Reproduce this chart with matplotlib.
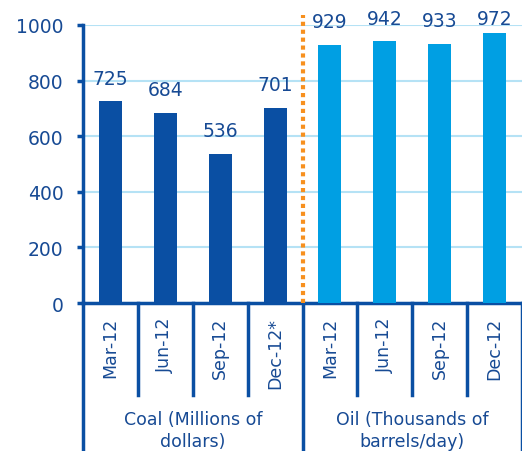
import matplotlib
matplotlib.use('Agg')

import numpy as np
import matplotlib.pyplot as plt
import matplotlib.transforms as mtransforms

coal_labels = ["Mar-12", "Jun-12", "Sep-12", "Dec-12*"]
coal_values = [725, 684, 536, 701]
oil_labels = ["Mar-12", "Jun-12", "Sep-12", "Dec-12"]
oil_values = [929, 942, 933, 972]
group_names = ["Coal (Millions of\ndollars)", "Oil (Thousands of\nbarrels/day)"]
yticks = [0, 200, 400, 600, 800, 1000]

dark = "#0a4fa3"
light = "#009fe3"
txt = "#174a94"
grid = "#b5e2f5"
orange = "#f7901e"

plt.rcParams['font.family'] = ['DejaVu Sans']

fig = plt.figure(figsize=(5.22, 4.52), dpi=100)
ax = fig.add_axes([83 / 522, (452 - 304) / 452, 1 - 83 / 522, 278 / 452])

values = coal_values + oil_values
labels = coal_labels + oil_labels
x = np.arange(len(values))
colors = [dark] * len(coal_values) + [light] * len(oil_values)

ax.bar(x, values, width=0.42, color=colors, zorder=3)
# value labels sit a little above the bars, but stay inside the figure
for xi, v in zip(x, values):
    ax.text(xi, min(v + 50, 990), str(v), ha="center", va="bottom",
            fontsize=13.5, color=txt, clip_on=False)

ax.set_xlim(-0.5, len(values) - 0.5)
ax.set_ylim(0, 1000)
ax.set_yticks(yticks)
ax.yaxis.grid(True, color=grid, linewidth=1.5, zorder=0)
ax.set_axisbelow(True)
ax.tick_params(axis="y", length=4, width=2.5, color=dark, labelsize=13.5,
               labelcolor=txt, pad=10)
ax.set_xticks([])

for s in ["top", "right"]:
    ax.spines[s].set_visible(False)
for s in ["left", "bottom"]:
    ax.spines[s].set_color(dark)
    ax.spines[s].set_linewidth(2.5)

# divider between coal and oil
split = len(coal_values) - 0.5
ax.plot([split, split], [0, 1035], color=orange, linewidth=3,
        linestyle=(0, (1, 0.9)), clip_on=False, zorder=4)

trans = mtransforms.blended_transform_factory(ax.transData, ax.transAxes)

# category labels
for xi, lab in zip(x, labels):
    ax.text(xi, -0.05, lab, rotation=90, ha="center", va="top",
            fontsize=12.5, color=txt, transform=trans)

# separators
for b in np.arange(-0.5, len(values), 1.0):
    long_line = b in (-0.5, split, len(values) - 0.5)
    ax.plot([b, b], [0, -0.55 if long_line else -0.33], color=dark,
            linewidth=2.5, transform=trans, clip_on=False)

# group labels
centers = [(len(coal_values) - 1) / 2, len(coal_values) + (len(oil_values) - 1) / 2]
for c, name in zip(centers, group_names):
    ax.text(c, -0.385, name, ha="center", va="top", fontsize=12.5,
            color=txt, transform=trans, linespacing=1.3)

fig.savefig("out.png", dpi=100)
